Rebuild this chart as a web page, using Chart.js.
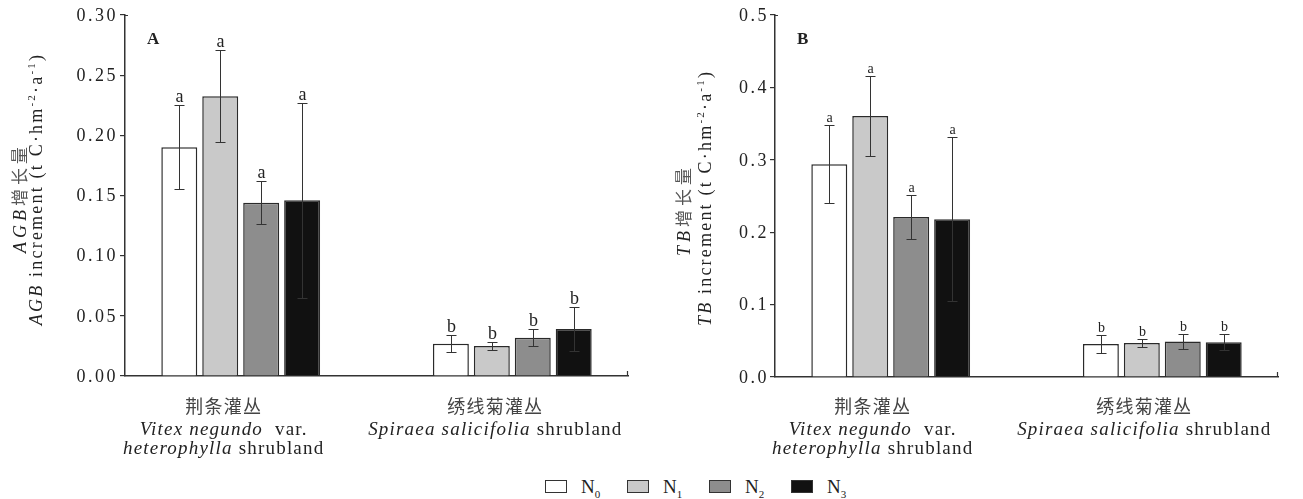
<!DOCTYPE html>
<html>
<head>
<meta charset="utf-8">
<script src="https://cdn.jsdelivr.net/npm/chart.js@4/dist/chart.umd.min.js"></script>
<style>
  html, body { margin: 0; padding: 0; background: #fff; width: 1303px; height: 499px; overflow: hidden; }
  .panel { position: absolute; top: 0; height: 470px; }
  #panelA { left: 0; width: 650px; }
  #panelB { left: 650px; width: 653px; }
  #legend { position: absolute; left: 545px; top: 476px; height: 20px; white-space: nowrap;
            font-family: "Liberation Serif", "Times New Roman", serif; font-size: 19px; color: #222; }
  .item { display: inline-block; width: 82px; vertical-align: top; }
  .swatch { display: inline-block; width: 20px; height: 11px; border: 1.5px solid #333; vertical-align: middle;
            margin-right: 14px; position: relative; top: -2px; }
  .item sub { font-size: 11px; }
</style>
</head>
<body>
<div class="panel" id="panelA"><canvas id="chartA"></canvas></div>
<div class="panel" id="panelB"><canvas id="chartB"></canvas></div>
<div id="legend"></div>
<script>
// Shrubland types (x positions 0 and 1) and nitrogen treatments
const shrublands = [0, 1];
const treatments = ['N0', 'N1', 'N2', 'N3'];
const barColors = ['#ffffff', '#c9c9c9', '#8d8d8d', '#111111'];

// Aboveground biomass increment, rows = N0..N3, columns = shrublands
const agbMeans  = [[0.190, 0.0267], [0.2325, 0.025], [0.144, 0.0317], [0.146, 0.039]];
const agbErrors = [[0.035, 0.007],  [0.038, 0.003],  [0.018, 0.007],  [0.081, 0.018]];
const agbLetters = [['a', 'b'], ['a', 'b'], ['a', 'b'], ['a', 'b']];
const agbTicks = [0, 0.05, 0.10, 0.15, 0.20, 0.25, 0.30];

// Total biomass increment
const tbMeans  = [[0.294, 0.0456], [0.3605, 0.047], [0.221, 0.049], [0.218, 0.048]];
const tbErrors = [[0.054, 0.013],  [0.055, 0.005],  [0.030, 0.011], [0.113, 0.011]];
const tbLetters = [['a', 'b'], ['a', 'b'], ['a', 'b'], ['a', 'b']];
const tbTicks = [0, 0.1, 0.2, 0.3, 0.4, 0.5];

// Category labels: lines of [text, style] segments
const groupLabels = [
  [[['荆条灌丛', 'cn']], [['Vitex negundo', 'it'], ['  var.', 'rm']], [['heterophylla', 'it'], [' shrubland', 'rm']]],
  [[['绣线菊灌丛', 'cn']], [['Spiraea salicifolia', 'it'], [' shrubland', 'rm']]]
];
const agbTitle = [
  [['AGB', 'it'], ['增长量', 'cn']],
  [['AGB', 'it'], [' increment (t C·hm', 'rm'], ['-2', 'sup'], ['·a', 'rm'], ['-1', 'sup'], [')', 'rm']]
];
const tbTitle = [
  [['TB', 'it'], ['增长量', 'cn']],
  [['TB', 'it'], [' increment (t C·hm', 'rm'], ['-2', 'sup'], ['·a', 'rm'], ['-1', 'sup'], [')', 'rm']]
];

const SERIF = '"Liberation Serif", "Times New Roman", serif';
const CJK = '"Noto Sans CJK SC", sans-serif';

function segFont(kind, size) {
  if (kind === 'it') return `italic ${size}px ${SERIF}`;
  if (kind === 'cn') return `${size - 1}px ${CJK}`;
  if (kind === 'sup') return `${Math.round(size * 0.62)}px ${SERIF}`;
  return `${size}px ${SERIF}`;
}

function drawRich(ctx, segs, cx, baseY, size, spacing, colorCn) {
  ctx.save();
  ctx.letterSpacing = spacing + 'px';
  ctx.textAlign = 'left';
  ctx.textBaseline = 'alphabetic';
  let total = 0;
  const widths = segs.map(([t, k]) => {
    ctx.font = segFont(k, size);
    const w = ctx.measureText(t).width;
    total += w;
    return w;
  });
  let x = cx - total / 2;
  segs.forEach(([t, k], i) => {
    ctx.font = segFont(k, size);
    ctx.fillStyle = (k === 'cn' && colorCn) ? colorCn : '#222';
    ctx.fillText(t, x, k === 'sup' ? baseY - size * 0.4 : baseY);
    x += widths[i];
  });
  ctx.restore();
}

// Error bars, significance letters, tick labels, titles and category labels
function makeDecor(cfg) {
  return {
    id: 'decor' + cfg.tag,
    afterDatasetsDraw(chart) {
      const { ctx, scales: { y } } = chart;
      ctx.save();
      ctx.strokeStyle = '#333';
      ctx.lineWidth = 1;
      chart.data.datasets.forEach((ds, i) => {
        const meta = chart.getDatasetMeta(i);
        meta.data.forEach((bar, j) => {
          const v = ds.data[j].y, e = ds.errors[j];
          const yt = Math.round(y.getPixelForValue(v + e)) + 0.5;
          const yb = Math.round(y.getPixelForValue(v - e)) + 0.5;
          const x = Math.round(bar.x) + 0.5;
          ctx.beginPath();
          ctx.moveTo(x, yt); ctx.lineTo(x, yb);
          ctx.moveTo(x - cfg.cap, yt); ctx.lineTo(x + cfg.cap, yt);
          ctx.moveTo(x - cfg.cap, yb); ctx.lineTo(x + cfg.cap, yb);
          ctx.stroke();
          ctx.fillStyle = '#222';
          ctx.font = `${cfg.letterSize}px ${SERIF}`;
          ctx.textAlign = 'center';
          ctx.textBaseline = 'alphabetic';
          ctx.fillText(ds.letters[j], x, yt - 4);
        });
      });
      ctx.restore();
    },
    afterDraw(chart) {
      const { ctx, chartArea: ca, scales: { x, y } } = chart;
      ctx.save();
      // axis end marks
      ctx.strokeStyle = '#333';
      ctx.lineWidth = 1.2;
      ctx.beginPath();
      ctx.moveTo(ca.right - 0.5, ca.bottom); ctx.lineTo(ca.right - 0.5, ca.bottom - 5);
      ctx.moveTo(ca.left, ca.top + 0.5); ctx.lineTo(ca.left + 3, ca.top + 0.5);
      ctx.stroke();
      // y tick labels
      ctx.letterSpacing = cfg.tickSpacing + 'px';
      ctx.font = `${cfg.tickSize}px ${SERIF}`;
      ctx.fillStyle = '#222';
      ctx.textAlign = 'right';
      ctx.textBaseline = 'middle';
      y.ticks.forEach(t => {
        ctx.fillText(t.value.toFixed(cfg.decimals), ca.left - cfg.tickGap, y.getPixelForValue(t.value) + 1);
      });
      ctx.letterSpacing = '0px';
      // panel letter
      ctx.font = `bold 17px ${SERIF}`;
      ctx.textAlign = 'left';
      ctx.textBaseline = 'alphabetic';
      ctx.fillText(cfg.tag, ca.left + 22, ca.top + 29);
      ctx.restore();
      // rotated axis title
      cfg.title.forEach((line, i) => {
        ctx.save();
        ctx.translate(cfg.titleX[i], cfg.titleY[i]);
        ctx.rotate(-Math.PI / 2);
        drawRich(ctx, line, 0, 0, cfg.titleSize, cfg.titleSpacing[i], '#555');
        ctx.restore();
      });
      // category labels
      groupLabels.forEach((lines, g) => {
        const cx = x.getPixelForValue(shrublands[g]) + cfg.labelShift;
        lines.forEach((line, k) => {
          drawRich(ctx, line, cx, cfg.labelBase[k], cfg.labelSize, cfg.labelSpacing, '#444');
        });
      });
    }
  };
}

function makeChart(id, means, errors, letters, ticks, yMax, pad, decor) {
  const datasets = treatments.map((name, i) => ({
    label: name,
    data: shrublands.map((s, j) => ({ x: s, y: means[i][j] })),
    errors: errors[i],
    letters: letters[i],
    backgroundColor: barColors[i],
    borderColor: '#2a2a2a',
    borderWidth: 1.5,
    barPercentage: 0.878,
    categoryPercentage: 0.603
  }));
  return new Chart(document.getElementById(id), {
    type: 'bar',
    data: { datasets },
    options: {
      responsive: true,
      maintainAspectRatio: false,
      animation: false,
      layout: { padding: pad },
      plugins: { legend: { display: false }, tooltip: { enabled: false } },
      scales: {
        x: {
          type: 'linear',
          min: -0.426,
          max: 1.426,
          offset: false,
          afterBuildTicks: s => { s.ticks = shrublands.map(v => ({ value: v })); },
          afterFit: s => { s.height = 0; },
          grid: { display: false },
          border: { display: true, color: '#333', width: 1.5 },
          ticks: { display: false }
        },
        y: {
          min: 0,
          max: yMax,
          afterBuildTicks: s => { s.ticks = ticks.map(v => ({ value: v })); },
          afterFit: s => { s.width = 125; },
          grid: { drawOnChartArea: false, tickLength: 5, color: '#333', lineWidth: 1.2 },
          border: { color: '#333', width: 1.5 },
          ticks: { display: false }
        }
      }
    },
    plugins: [decor]
  });
}

makeChart('chartA', agbMeans, agbErrors, agbLetters, agbTicks, 0.30,
  { left: 0, right: 22, top: 15, bottom: 94 },
  makeDecor({
    tag: 'A', cap: 5, letterSize: 18, tickSize: 18, tickSpacing: 2.5, tickGap: 7, decimals: 2,
    title: agbTitle, titleX: [26, 42], titleY: [198, 189], titleSize: 18, titleSpacing: [4, 2.2],
    labelShift: -17, labelBase: [413, 435, 454], labelSize: 19, labelSpacing: 1.2
  }));

makeChart('chartB', tbMeans, tbErrors, tbLetters, tbTicks, 0.5,
  { left: 0, right: 25, top: 15, bottom: 93 },
  makeDecor({
    tag: 'B', cap: 5, letterSize: 14, tickSize: 18, tickSpacing: 2.5, tickGap: 6, decimals: 1,
    title: tbTitle, titleX: [40, 61], titleY: [210, 198], titleSize: 18, titleSpacing: [4, 2.2],
    labelShift: -18, labelBase: [413, 435, 454], labelSize: 19, labelSpacing: 1.2
  }));

// Legend
const legend = document.getElementById('legend');
treatments.forEach((t, i) => {
  const item = document.createElement('span');
  item.className = 'item';
  item.innerHTML = `<span class="swatch" style="background:${barColors[i]}"></span>N<sub>${i}</sub>`;
  legend.appendChild(item);
});
</script>
</body>
</html>
